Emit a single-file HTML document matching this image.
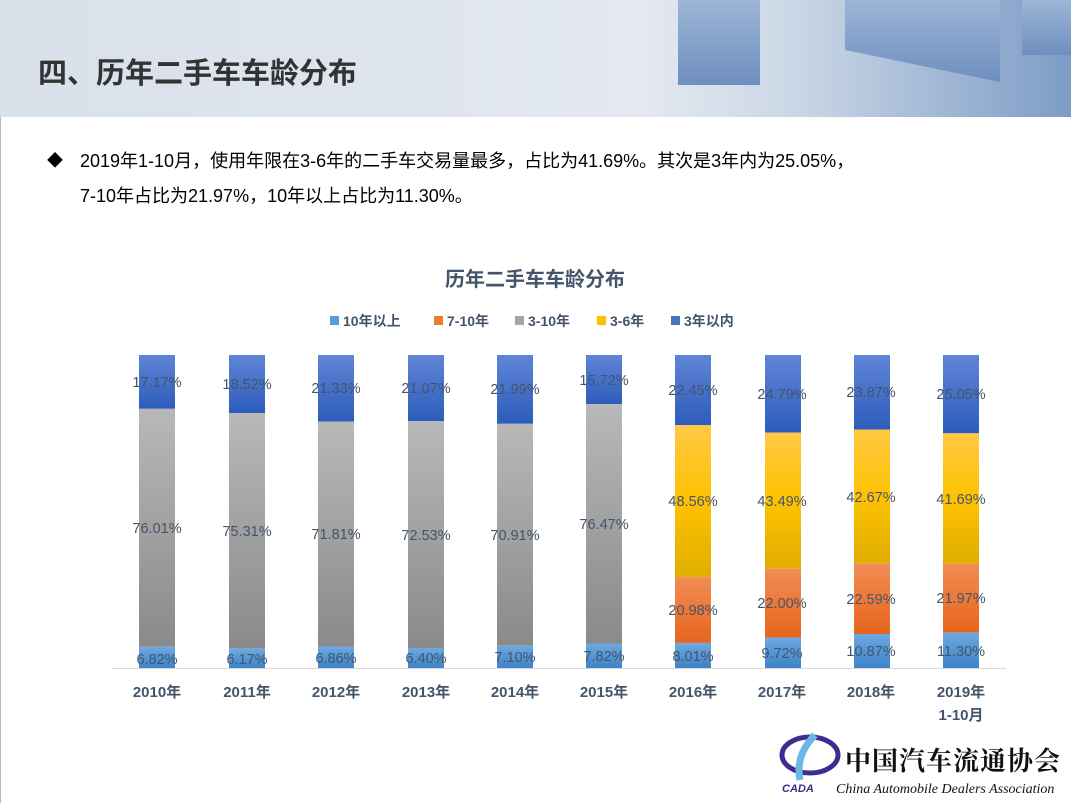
<!DOCTYPE html>
<html><head><meta charset="utf-8"><style>
body{margin:0;width:1071px;height:803px;overflow:hidden;background:#fff;font-family:"Liberation Sans","Noto Sans CJK SC",sans-serif}
</style></head><body>
<svg width="1071" height="803" xmlns="http://www.w3.org/2000/svg" style="position:absolute;left:0;top:0">
<defs>
<linearGradient id="hd" x1="0" x2="1" y1="0" y2="0"><stop offset="0" stop-color="#d8e0ea"/><stop offset="0.6" stop-color="#e4e9f0"/><stop offset="0.75" stop-color="#c9d5e5"/><stop offset="1" stop-color="#7d9cc6"/></linearGradient>
<linearGradient id="cube" x1="0" x2="0" y1="0" y2="1"><stop offset="0" stop-color="#9db5d6"/><stop offset="1" stop-color="#6e8fbf"/></linearGradient>
<linearGradient id="lb" x1="0" x2="0" y1="0" y2="1"><stop offset="0" stop-color="#6ea9e2"/><stop offset="1" stop-color="#3d83c6"/></linearGradient>
<linearGradient id="gr" x1="0" x2="0" y1="0" y2="1"><stop offset="0" stop-color="#b8b8b8"/><stop offset="1" stop-color="#8a8a8a"/></linearGradient>
<linearGradient id="bl" x1="0" x2="0" y1="0" y2="1"><stop offset="0" stop-color="#5f86d6"/><stop offset="1" stop-color="#2d5cbb"/></linearGradient>
<linearGradient id="ye" x1="0" x2="0" y1="0" y2="1"><stop offset="0" stop-color="#ffc844"/><stop offset="0.5" stop-color="#fec200"/><stop offset="1" stop-color="#e0ae00"/></linearGradient>
<linearGradient id="or" x1="0" x2="0" y1="0" y2="1"><stop offset="0" stop-color="#f18d55"/><stop offset="1" stop-color="#e7651c"/></linearGradient>
</defs>
<rect x="0" y="0" width="1071" height="117" fill="url(#hd)"/>
<rect x="678" y="0" width="82" height="85" fill="url(#cube)"/>
<polygon points="845,0 1000,0 1000,82 845,50" fill="url(#cube)"/>
<rect x="1022" y="0" width="49" height="55" fill="url(#cube)"/>
<line x1="0.5" y1="117" x2="0.5" y2="803" stroke="#bbb"/>
<text x="38" y="83" font-size="29" font-weight="bold" fill="#333">四、历年二手车车龄分布</text>
<text x="47" y="166" font-size="16" fill="#000">◆</text>
<text x="80" y="167" font-size="18" fill="#000">2019年1-10月，使用年限在3-6年的二手车交易量最多，占比为41.69%。其次是3年内为25.05%，</text>
<text x="80" y="202" font-size="18" fill="#000">7-10年占比为21.97%，10年以上占比为11.30%。</text>
<text x="535" y="286" font-size="20" font-weight="bold" fill="#44546a" text-anchor="middle">历年二手车车龄分布</text>
<g font-size="14" font-weight="bold" fill="#44546a">
<rect x="330" y="316" width="9" height="9" fill="#5b9bd5"/><text x="343" y="326">10年以上</text>
<rect x="434" y="316" width="9" height="9" fill="#ed7d31"/><text x="447" y="326">7-10年</text>
<rect x="515" y="316" width="9" height="9" fill="#a5a5a5"/><text x="528" y="326">3-10年</text>
<rect x="597" y="316" width="9" height="9" fill="#ffc000"/><text x="610" y="326">3-6年</text>
<rect x="671" y="316" width="9" height="9" fill="#4472c4"/><text x="684" y="326">3年以内</text>
</g>
<line x1="112" y1="668.5" x2="1006" y2="668.5" stroke="#d9d9d9"/>
<g>
<rect x="139" y="355" width="36" height="53.8" fill="url(#bl)"/><rect x="139" y="408.8" width="36" height="237.9" fill="url(#gr)"/><rect x="139" y="646.7" width="36" height="21.3" fill="url(#lb)"/>
<rect x="229" y="355" width="36" height="58" fill="url(#bl)"/><rect x="229" y="413" width="36" height="235.7" fill="url(#gr)"/><rect x="229" y="648.7" width="36" height="19.3" fill="url(#lb)"/>
<rect x="318" y="355" width="36" height="66.7" fill="url(#bl)"/><rect x="318" y="421.7" width="36" height="224.8" fill="url(#gr)"/><rect x="318" y="646.5" width="36" height="21.5" fill="url(#lb)"/>
<rect x="408" y="355" width="36" height="66" fill="url(#bl)"/><rect x="408" y="421" width="36" height="227" fill="url(#gr)"/><rect x="408" y="648" width="36" height="20" fill="url(#lb)"/>
<rect x="497" y="355" width="36" height="68.8" fill="url(#bl)"/><rect x="497" y="423.8" width="36" height="222" fill="url(#gr)"/><rect x="497" y="645.8" width="36" height="22.2" fill="url(#lb)"/>
<rect x="586" y="355" width="36" height="49.1" fill="url(#bl)"/><rect x="586" y="404.1" width="36" height="239.4" fill="url(#gr)"/><rect x="586" y="643.5" width="36" height="24.5" fill="url(#lb)"/>
<rect x="675" y="355" width="36" height="70.2" fill="url(#bl)"/><rect x="675" y="425.2" width="36" height="152" fill="url(#ye)"/><rect x="675" y="577.2" width="36" height="65.7" fill="url(#or)"/><rect x="675" y="642.9" width="36" height="25.1" fill="url(#lb)"/>
<rect x="765" y="355" width="36" height="77.6" fill="url(#bl)"/><rect x="765" y="432.6" width="36" height="136.1" fill="url(#ye)"/><rect x="765" y="568.7" width="36" height="68.9" fill="url(#or)"/><rect x="765" y="637.6" width="36" height="30.4" fill="url(#lb)"/>
<rect x="854" y="355" width="36" height="74.7" fill="url(#bl)"/><rect x="854" y="429.7" width="36" height="133.6" fill="url(#ye)"/><rect x="854" y="563.3" width="36" height="70.7" fill="url(#or)"/><rect x="854" y="634" width="36" height="34" fill="url(#lb)"/>
<rect x="943" y="355" width="36" height="78.3" fill="url(#bl)"/><rect x="943" y="433.3" width="36" height="130.5" fill="url(#ye)"/><rect x="943" y="563.8" width="36" height="68.8" fill="url(#or)"/><rect x="943" y="632.6" width="36" height="35.4" fill="url(#lb)"/>
</g>
<g font-size="14.5" fill="#44546a" text-anchor="middle">
<text x="157" y="387">17.17%</text><text x="157" y="533">76.01%</text><text x="157" y="664">6.82%</text>
<text x="247" y="389">18.52%</text><text x="247" y="536">75.31%</text><text x="247" y="664">6.17%</text>
<text x="336" y="393">21.33%</text><text x="336" y="539">71.81%</text><text x="336" y="663">6.86%</text>
<text x="426" y="393">21.07%</text><text x="426" y="540">72.53%</text><text x="426" y="663">6.40%</text>
<text x="515" y="394">21.99%</text><text x="515" y="540">70.91%</text><text x="515" y="662">7.10%</text>
<text x="604" y="385">15.72%</text><text x="604" y="529">76.47%</text><text x="604" y="661">7.82%</text>
<text x="693" y="395">22.45%</text><text x="693" y="506">48.56%</text><text x="693" y="615">20.98%</text><text x="693" y="661">8.01%</text>
<text x="782" y="399">24.79%</text><text x="782" y="506">43.49%</text><text x="782" y="608">22.00%</text><text x="782" y="658">9.72%</text>
<text x="871" y="397">23.87%</text><text x="871" y="502">42.67%</text><text x="871" y="604">22.59%</text><text x="871" y="656">10.87%</text>
<text x="961" y="399">25.05%</text><text x="961" y="504">41.69%</text><text x="961" y="603">21.97%</text><text x="961" y="656">11.30%</text>
</g>
<g font-size="15" font-weight="bold" fill="#44546a" text-anchor="middle">
<text x="157" y="697">2010年</text><text x="247" y="697">2011年</text><text x="336" y="697">2012年</text><text x="426" y="697">2013年</text><text x="515" y="697">2014年</text><text x="604" y="697">2015年</text><text x="693" y="697">2016年</text><text x="782" y="697">2017年</text><text x="871" y="697">2018年</text><text x="961" y="697">2019年</text><text x="961" y="720">1-10月</text>
</g>
<ellipse cx="810" cy="755" rx="28" ry="18" fill="none" stroke="#3a2f8f" stroke-width="5"/>
<path d="M815 735 q-20 20 -15 45" stroke="#6bb8e8" stroke-width="7" fill="none"/>
<text x="782" y="792" font-size="11" font-weight="bold" font-style="italic" fill="#3a2f8f">CADA</text>
<text x="845" y="770" font-size="26" font-weight="bold" fill="#111" font-family="'Noto Serif CJK SC',serif" letter-spacing="1">中国汽车流通协会</text>
<text x="836" y="793" font-size="14" font-style="italic" fill="#111" font-family="'Liberation Serif',serif">China Automobile Dealers Association</text>
</svg>
</body></html>
